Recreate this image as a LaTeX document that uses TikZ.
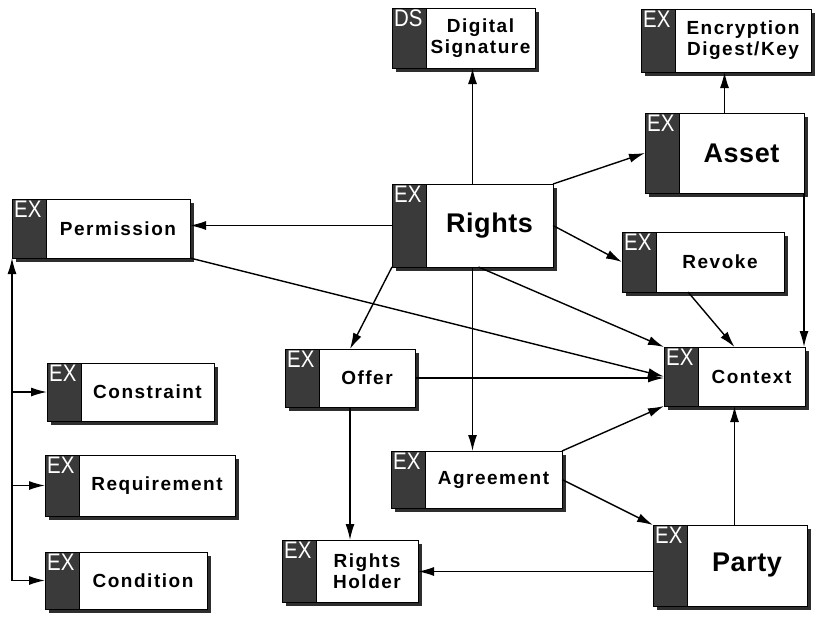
\documentclass[tikz,border=0pt]{standalone}
\usepackage{fontspec}
\setmainfont{Liberation Sans}
\newfontfamily\boxfont{Liberation Sans}[LetterSpace=8]
\newfontfamily\bigboxfont{Liberation Sans}[LetterSpace=2]
\newfontfamily\tagfont{Liberation Sans}[FakeStretch=0.85]
\usetikzlibrary{arrows.meta}
\definecolor{tabgray}{HTML}{3A3A3A}
\definecolor{shadegray}{HTML}{2E2E2E}
\tikzset{
  box/.style={draw=black, line width=0.9pt, fill=white, anchor=north west,
    inner sep=0pt, outer sep=0pt,
    preaction={fill=shadegray, transform canvas={shift={(4pt,-4pt)}}}},
  tabfill/.style={fill=tabgray, draw=black, line width=0.9pt},
  tag/.style={anchor=north west, inner sep=0pt, text=white,
    font=\tagfont\fontsize{24}{24}\selectfont},
  sm/.style={align=center, inner sep=0pt,
    font=\boxfont\bfseries\fontsize{19}{21}\selectfont},
  big/.style={align=center, inner sep=0pt,
    font=\bigboxfont\bfseries\fontsize{27}{30}\selectfont},
  conn/.style={line width=1.4pt, -{Latex[length=16pt,width=9pt]}},
}
% #1 name, #2 tag, #3 x, #4 y (top left), #5 width, #6 height, #7 text style, #8 text
\newcommand\tabbox[8]{%
  \node[box, minimum width=#5pt, minimum height=#6pt] (#1) at (#3,#4) {};
  \path[tabfill] (#1.north west) rectangle ([xshift=34pt]#1.south west);
  \node[tag] (#1-tag) at ([xshift=2pt,yshift=-2pt]#1.north west) {#2};
  \node[#7] (#1-text) at ([xshift=17pt]#1.center) {#8};
}
\begin{document}
\begin{tikzpicture}[x=1pt, y=-1pt]
  \fill[white] (0,0) rectangle (819,619);
  \useasboundingbox (0,0) rectangle (819,619);

  % boxes
  \tabbox{ds}{DS}{392}{8}{143}{60}{sm}{Digital\\Signature}
  \tabbox{enc}{EX}{641}{9}{170}{63}{sm}{Encryption\\Digest/Key}
  \tabbox{asset}{EX}{645}{113}{159}{80}{big}{Asset}
  \tabbox{perm}{EX}{12}{199}{178}{59}{sm}{Permission}
  \tabbox{rights}{EX}{392}{184}{161}{83}{big}{Rights}
  \tabbox{revoke}{EX}{622}{232}{162}{60}{sm}{Revoke}
  \tabbox{context}{EX}{664}{347}{141}{59}{sm}{Context}
  \tabbox{offer}{EX}{285}{349}{130}{58}{sm}{Offer}
  \tabbox{agreement}{EX}{391}{451}{171}{57}{sm}{Agreement}
  \tabbox{constraint}{EX}{47}{363}{167}{58}{sm}{Constraint}
  \tabbox{requirement}{EX}{45}{455}{190}{61}{sm}{Requirement}
  \tabbox{condition}{EX}{45}{552}{162}{57}{sm}{Condition}
  \tabbox{holder}{EX}{282}{540}{136}{62}{sm}{Rights\\Holder}
  \tabbox{party}{EX}{653}{525}{154}{81}{big}{Party}

  % connectors from Rights
  \draw[conn] (rights.north) -- (rights.north |- ds.south);
  \draw[conn] (rights.north east) -- (asset.west);
  \draw[conn] (rights.west) -- (rights.west -| perm.east);
  \draw[conn] (rights.east) -- (revoke.west);
  \draw[conn] (rights.south) -- (rights.south |- agreement.north);
  \draw[conn] (rights.south west) -- (offer.north);
  \draw[conn] ([xshift=6pt]rights.south) -- (context.north west);

  % connectors into Context
  \draw[conn] (asset.north) -- (asset.north |- enc.south);
  \draw[conn] (perm.south east) -- (context.west);
  \draw[conn] (offer.east) -- (offer.east -| context.west);
  \draw[conn] ([xshift=-15pt]revoke.south) -- (context.north);
  \draw[conn] (asset.south east) -- (asset.south east |- context.north);
  \draw[conn] (agreement.north east) -- (context.south west);
  \draw[conn] (context.south |- party.north) -- (context.south);

  % remaining links
  \draw[conn] (agreement.east) -- (party.north west);
  \draw[conn] ([yshift=-6pt]party.west) -- ([yshift=-6pt]party.west -| holder.east);
  \draw[conn] (offer.south) -- (offer.south |- holder.north);

  % condition bus on the left
  \coordinate (busend) at (perm.south west |- condition.west);
  \draw[conn] (busend) -- (perm.south west);
  \draw[conn] (perm.south west |- constraint.west) -- (constraint.west);
  \draw[conn] (perm.south west |- requirement.west) -- (requirement.west);
  \draw[conn] (busend) -- (condition.west);
\end{tikzpicture}
\end{document}
